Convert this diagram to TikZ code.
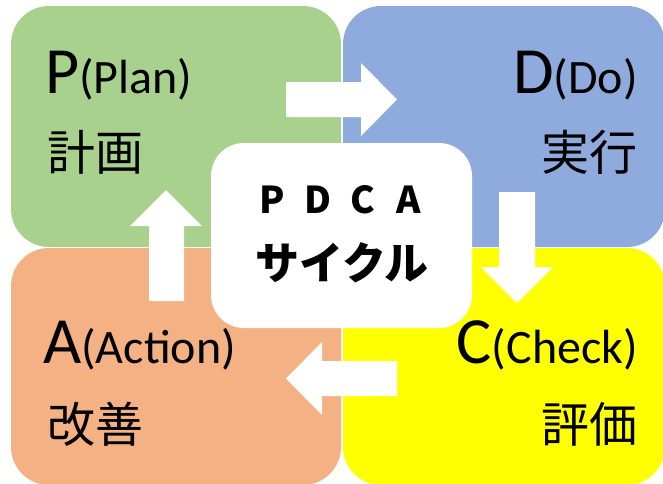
\documentclass[tikz,border=0pt]{standalone}
\usepackage{fontspec}
\setmainfont{Carlito}
\newfontfamily\jp{Noto Sans CJK JP}
\definecolor{pgreen}{HTML}{A9D18E}
\definecolor{pblue}{HTML}{8FAADC}
\definecolor{porange}{HTML}{F4B183}
\definecolor{pyellow}{HTML}{FFFF00}
\tikzset{
  quad/.style={rounded corners=38pt},
  blockarrow/.style={fill=white},
  big/.style={inner sep=0pt, font=\fontsize{66}{66}\selectfont},
  cjklabel/.style={inner sep=0pt, font=\jp\fontsize{48}{48}\selectfont},
}
\newcommand{\smallpart}[1]{{\fontsize{48}{48}\selectfont #1}}
\begin{document}
\begin{tikzpicture}[x=1pt,y=-1pt]
\useasboundingbox (0,0) rectangle (663,483);
% quadrants
\fill[pgreen,quad] (11,6) rectangle (341,247);
\fill[pblue,quad] (343,6) rectangle (665,247);
\fill[porange,quad] (11,248) rectangle (341,485);
\fill[pyellow,quad] (343,248) rectangle (665,485);
% arrows
\fill[blockarrow] (286,82) -- (361,82) -- (361,63) -- (397,99.5) -- (361,136) -- (361,117) -- (286,117) -- cycle;
\fill[blockarrow] (499,192) -- (535,192) -- (535,267) -- (553,267) -- (517,303) -- (481,267) -- (499,267) -- cycle;
\fill[blockarrow] (397,361) -- (397,396) -- (322,396) -- (322,415) -- (286,378.5) -- (322,342) -- (322,361) -- cycle;
\fill[blockarrow] (149,301) -- (184,301) -- (184,226) -- (202,226) -- (166,190) -- (130,226) -- (149,226) -- cycle;
% centre box
\fill[white,rounded corners=33pt] (211,143) rectangle (472,328);
\node[inner sep=0pt, anchor=base, font=\jp\bfseries\fontsize{37}{37}\selectfont] (pdca) at (340.5,213)
  {\makebox[45.5pt]{P}\makebox[45.5pt]{D}\makebox[45.5pt]{C}\makebox[45.5pt]{A}};
\node[inner sep=0pt, font=\jp\bfseries\fontsize{44}{44}\selectfont] (cycle) at (342,262.5) {サイクル};
% labels
\node[big, anchor=base west] (plan) at (45,93) {P\smallpart{(Plan)}};
\node[cjklabel] (keikaku) at (95,152) {計画};
\node[big, anchor=base east] (do) at (638,93) {D\smallpart{(Do)}};
\node[cjklabel] (jikko) at (589,152) {実行};
\node[big, anchor=base west] (action) at (43,363) {A\smallpart{(Action)}};
\node[cjklabel] (kaizen) at (95,424) {改善};
\node[big, anchor=base east] (check) at (638,363) {C\smallpart{(Check)}};
\node[cjklabel] (hyoka) at (589,424) {評価};
\end{tikzpicture}
\end{document}
